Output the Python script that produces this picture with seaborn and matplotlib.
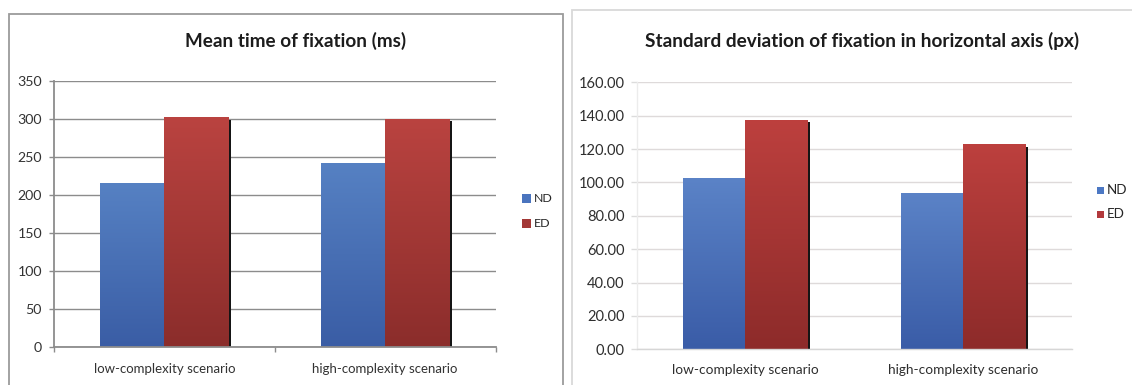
import numpy as np
import pandas as pd
import matplotlib
matplotlib.use("Agg")
import matplotlib.pyplot as plt
import seaborn as sns
from matplotlib.colors import LinearSegmentedColormap
from matplotlib.patches import Rectangle
from matplotlib.transforms import offset_copy

# ---- data -------------------------------------------------------------
scenarios = ["low-complexity scenario", "high-complexity scenario"]
groups = ["ND", "ED"]
mean_fixation_nd = [215, 242]
mean_fixation_ed = [302, 300]
sd_horizontal_nd = [102.5, 93.6]
sd_horizontal_ed = [137.6, 123.0]

mean_ticks = [0, 50, 100, 150, 200, 250, 300, 350]
sd_ticks = [0, 20, 40, 60, 80, 100, 120, 140, 160]

W, H = 1132, 385
sns.set_theme(style="white")
plt.rcParams["font.family"] = ["Lato", "DejaVu Sans"]

fig = plt.figure(figsize=(W / 100, H / 100), dpi=100)
fig.patch.set_facecolor("white")


def px_axes(x0, y0, x1, y1):
    return fig.add_axes([x0 / W, 1 - y1 / H, (x1 - x0) / W, (y1 - y0) / H])


def frame(x0, y0, x1, y1, color, lw):
    fig.patches.append(Rectangle((x0 / W, 1 - y1 / H), (x1 - x0) / W, (y1 - y0) / H,
                                 transform=fig.transFigure, fill=False,
                                 edgecolor=color, linewidth=lw, zorder=0))


def long_table(nd, ed):
    return pd.DataFrame({
        "scenario": scenarios * 2,
        "group": [groups[0]] * len(scenarios) + [groups[1]] * len(scenarios),
        "value": list(nd) + list(ed),
    })


def shaded_bars(ax, df, base, grads, width):
    sns.barplot(data=df, x="scenario", y="value", hue="group", hue_order=groups,
                order=scenarios, palette=base, width=width, dodge=True,
                saturation=1, legend=False, ax=ax, zorder=2, errorbar=None)
    bars = [p for p in ax.patches if isinstance(p, Rectangle)]
    shadow_tr = offset_copy(ax.transData, fig=fig, x=2.5, y=-2.5, units="dots")
    for i, bar in enumerate(bars):
        g = groups[i // len(scenarios)]
        x0, w, h = bar.get_x(), bar.get_width(), bar.get_height()
        bar.set_linewidth(0)
        ax.add_patch(Rectangle((x0, 0), w, h, transform=shadow_tr,
                               facecolor="#151515", edgecolor="none", zorder=1.5))
        cmap = LinearSegmentedColormap.from_list(g, grads[g])
        grad = np.linspace(0, 1, 256).reshape(-1, 1)
        im = ax.imshow(grad, extent=[x0, x0 + w, 0, h], origin="upper",
                       aspect="auto", cmap=cmap, zorder=2.1, interpolation="bilinear")
        im.set_clip_path(bar)


def legend_block(x, y_list, sq, colors, text_x, size):
    for g, y in zip(groups, y_list):
        fig.patches.append(Rectangle((x / W, 1 - (y + sq) / H), sq / W, sq / H,
                                     transform=fig.transFigure,
                                     facecolor=colors[g], edgecolor="none"))
        fig.text(text_x / W, 1 - (y + sq / 2) / H, g, fontsize=size,
                 color="#262626", va="center", ha="left")


# ---- left panel: mean time of fixation -------------------------------
frame(9, 14, 562.5, 400, "#9b9b9b", 1.3)
ax1 = px_axes(53.8, 80.5, 495.6, 346.7)
shaded_bars(ax1, long_table(mean_fixation_nd, mean_fixation_ed),
            {"ND": "#4C74BA", "ED": "#A63C39"},
            {"ND": ["#5681C3", "#3A5DA5"], "ED": ["#BA4340", "#8B2D2B"]},
            0.58)
ax1.set_xlim(-0.5, 1.5)
ax1.set_ylim(0, 350)
ax1.set_yticks(mean_ticks)
ax1.set_yticklabels([str(t) for t in mean_ticks])
ax1.set_xticks([-0.5, 0.5, 1.5], minor=True)
ax1.grid(axis="y", color="#8c8c8c", linewidth=1.0, zorder=0.5)
ax1.set_axisbelow(True)
for s in ["top", "right"]:
    ax1.spines[s].set_visible(False)
for s in ["left", "bottom"]:
    ax1.spines[s].set_color("#8c8c8c")
    ax1.spines[s].set_linewidth(1.3)
ax1.tick_params(axis="y", which="major", left=True, length=3.5, width=1.0,
                color="#8c8c8c", labelsize=10.2, labelcolor="#333333", pad=5)
ax1.tick_params(axis="x", which="major", length=0, labelsize=9.5,
                labelcolor="#333333", pad=11.5)
ax1.tick_params(axis="x", which="minor", bottom=True, length=3.5, width=1.0,
                color="#8c8c8c")
ax1.set_xlabel("")
ax1.set_ylabel("")
fig.text(295.5 / W, 1 - 41 / H, "Mean time of fixation (ms)", fontsize=13.6,
         fontweight="bold", color="#1c1c1c", ha="center", va="center")
legend_block(522.3, [194.3, 219.3], 8.7, {"ND": "#4A74BE", "ED": "#A33836"},
             534, 8.9)

# ---- right panel: horizontal standard deviation ----------------------
frame(571.5, 10.5, 1160, 400, "#d9d9d9", 1.3)
ax2 = px_axes(636.5, 82.3, 1072.4, 349.3)
shaded_bars(ax2, long_table(sd_horizontal_nd, sd_horizontal_ed),
            {"ND": "#4E76BE", "ED": "#A83837"},
            {"ND": ["#5B83C7", "#3A5CA7"], "ED": ["#BD403E", "#8D2B2A"]},
            0.57)
ax2.set_xlim(-0.5, 1.5)
ax2.set_ylim(0, 160)
ax2.set_yticks(sd_ticks)
ax2.set_yticklabels([f"{t:.2f}" for t in sd_ticks])
ax2.grid(axis="y", color="#dedada", linewidth=1.0, zorder=0.5)
ax2.set_axisbelow(True)
for s in ["top", "right"]:
    ax2.spines[s].set_visible(False)
ax2.spines["left"].set_color("#ececec")
ax2.spines["left"].set_linewidth(1.0)
ax2.spines["bottom"].set_color("#d6d6d6")
ax2.spines["bottom"].set_linewidth(1.0)
ax2.tick_params(axis="y", left=True, length=4, width=1.0, color="#dcdcdc",
                labelsize=10.5, labelcolor="#2e2e2e", pad=4.5)
ax2.tick_params(axis="x", length=0, labelsize=9.8, labelcolor="#2e2e2e", pad=10.5)
ax2.set_xlabel("")
ax2.set_ylabel("")
fig.text(861.6 / W, 1 - 41 / H,
         "Standard deviation of fixation in horizontal axis (px)", fontsize=13.7,
         fontweight="bold", color="#1c1c1c", ha="center", va="center")
legend_block(1097.3, [186.7, 210.7], 6.8, {"ND": "#4C78C4", "ED": "#B2393C"},
             1107, 9.6)

fig.savefig("out.png", dpi=100)
